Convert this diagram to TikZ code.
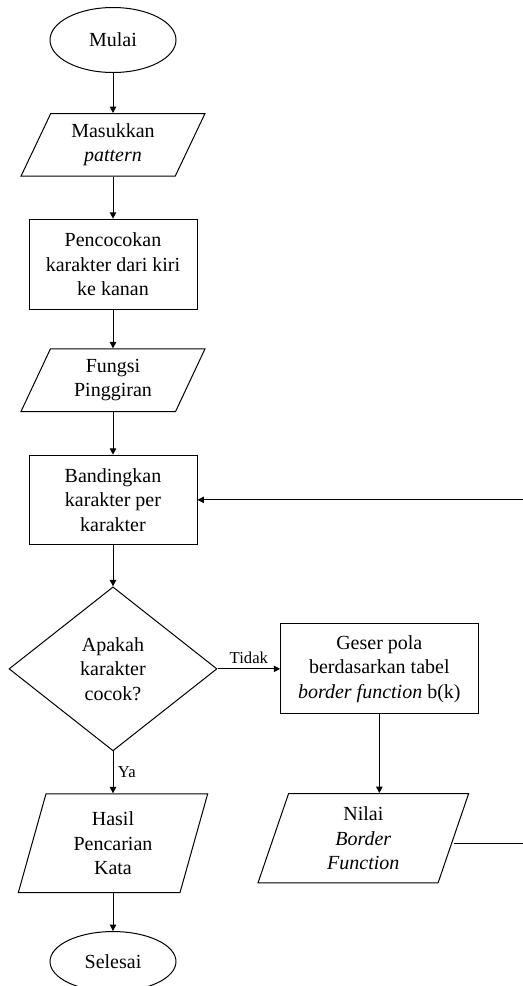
\documentclass[tikz,border=0pt]{standalone}
\usepackage{fontspec}
\setmainfont{Liberation Serif}
\usetikzlibrary{arrows.meta,positioning,shapes.geometric}

\begin{document}
\begin{tikzpicture}[
  node distance=31pt,
  every node/.style={font=\fontsize{15pt}{18.4pt}\selectfont},
  terminal/.style={ellipse,draw,line width=0.75pt,minimum width=94.5pt,minimum height=48.75pt},
  io/.style={trapezium,trapezium left angle=60,trapezium right angle=120,
             trapezium stretches body,draw,line width=0.75pt,align=center,
             minimum width=138pt,minimum height=47pt},
  process/.style={rectangle,draw,line width=0.75pt,align=center,
                  minimum width=126pt,minimum height=67.5pt},
  decision/.style={diamond,draw,line width=0.75pt,align=center,
                   minimum width=156pt,minimum height=123pt,inner sep=0pt},
  arrow/.style={-{Triangle[length=4.8pt,width=4.8pt]},line width=0.75pt},
  branch/.style={font=\fontsize{12.5pt}{15pt}\selectfont}
]
  \useasboundingbox (0,0) rectangle (392.25pt,-739.5pt);

  \node[terminal] (mulai) at (84.75pt,-30pt) {Mulai};
  \node[io,below=30pt of mulai] (masukkan) {Masukkan\\\textit{pattern}};
  \node[process,below=31.5pt of masukkan] (cocok) {Pencocokan\\karakter dari kiri\\ke kanan};
  \node[io,below=29pt of cocok] (fungsi) {Fungsi\\Pinggiran};
  \node[process,below=32pt of fungsi,minimum height=67pt] (banding) {Bandingkan\\karakter per\\karakter};
  \node[decision,below=31pt of banding] (apakah) {Apakah\\karakter\\cocok?};
  \node[process,right=47pt of apakah,minimum width=148pt] (geser) {Geser pola\\berdasarkan tabel\\\textit{border function} b(k)};
  \node[io,below=59pt of geser,xshift=-12pt,trapezium left angle=67,trapezium right angle=113,
        minimum width=158pt,minimum height=67pt] (nilai) {Nilai\\\textit{Border}\\\textit{Function}};
  \node[io,below=31.5pt of apakah,trapezium left angle=69,trapezium right angle=111,
        minimum width=142pt,minimum height=74pt] (hasil) {Hasil\\Pencarian\\Kata};
  \node[terminal,below=28.5pt of hasil,minimum height=45pt] (selesai) {Selesai};

  \draw[arrow] (mulai.south) -- (masukkan.north);
  \draw[arrow] (masukkan.south) -- (cocok.north);
  \draw[arrow] (cocok.south) -- (fungsi.north);
  \draw[arrow] (fungsi.south) -- (banding.north);
  \draw[arrow] (banding.south) -- (apakah.north);
  \draw[arrow] (apakah.east) -- node[above,branch]{Tidak} (geser.west);
  \draw[arrow] (apakah.south) -- node[right,branch]{Ya} (hasil.north);
  \draw[arrow] (geser.south) -- (geser.south |- nilai.north);
  \draw[arrow] (hasil.south) -- (selesai.north);
  \draw[arrow] ([yshift=-4pt]nilai.east) -- ++(70pt,0) |- (banding.east);
\end{tikzpicture}
\end{document}
